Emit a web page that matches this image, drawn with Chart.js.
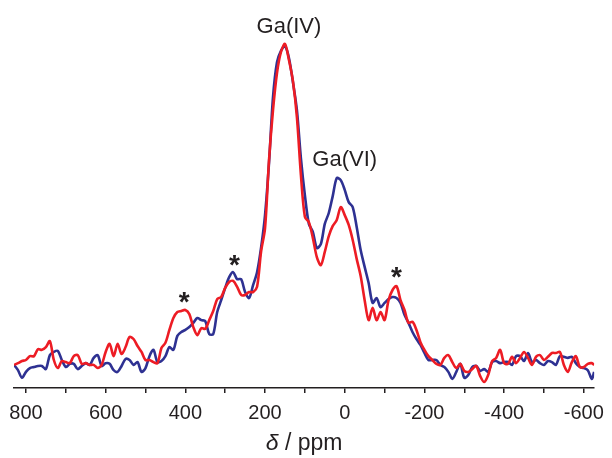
<!DOCTYPE html>
<html>
<head>
<meta charset="utf-8">
<script src="https://cdn.jsdelivr.net/npm/chart.js@4.4.1/dist/chart.umd.min.js"></script>
<style>
  html, body { margin: 0; padding: 0; background: #fff; }
</style>
</head>
<body>
<canvas id="spectrum" width="612" height="458"></canvas>
<script>
// chemical shift (ppm), every 10 ppm
const shift = [
  830, 820, 810, 800, 790, 780, 770, 760, 750, 740,
  730, 720, 710, 700, 690, 680, 670, 660, 650, 640,
  630, 620, 610, 600, 590, 580, 570, 560, 550, 540,
  530, 520, 510, 500, 490, 480, 470, 460, 450, 440,
  430, 420, 410, 400, 390, 380, 370, 360, 350, 340,
  330, 320, 310, 300, 290, 280, 270, 260, 250, 240,
  230, 220, 210, 200, 190, 180, 170, 160, 150, 140,
  130, 120, 110, 100, 90, 80, 70, 60, 50, 40,
  30, 20, 10, 0, -10, -20, -30, -40, -50, -60,
  -70, -80, -90, -100, -110, -120, -130, -140, -150, -160,
  -170, -180, -190, -200, -210, -220, -230, -240, -250, -260,
  -270, -280, -290, -300, -310, -320, -330, -340, -350, -360,
  -370, -380, -390, -400, -410, -420, -430, -440, -450, -460,
  -470, -480, -490, -500, -510, -520, -530, -540, -550, -560,
  -570, -580, -590, -600, -610, -620, -626
];

// intensity (a.u.), blue trace
const blueTrace = [
  6.6, 5.1, 2.9, 4.6, 5.7, 6.0, 6.3, 6.3, 5.4, 9.4,
  10.3, 10.6, 8.0, 6.0, 6.9, 6.9, 5.4, 6.3, 7.1, 6.6,
  8.6, 9.4, 6.3, 7.1, 6.9, 5.1, 4.6, 6.3, 8.3, 8.0,
  6.6, 7.4, 4.6, 5.7, 9.1, 10.9, 7.4, 7.7, 9.1, 11.7,
  10.9, 14.9, 16.0, 16.6, 17.4, 18.6, 20.0, 19.4, 19.1, 15.4,
  15.4, 21.7, 25.1, 28.6, 31.7, 33.1, 31.1, 31.1, 27.4, 25.7,
  29.4, 33.1, 40.0, 49.4, 64.3, 83.1, 93.1, 96.3, 97.7, 94.3,
  87.4, 79.4, 65.7, 55.1, 46.9, 44.6, 40.0, 41.1, 46.9, 50.0,
  54.9, 60.0, 59.4, 56.6, 53.1, 51.7, 46.0, 39.4, 34.6, 30.0,
  24.3, 25.7, 23.1, 24.3, 25.4, 26.0, 25.7, 24.3, 20.9, 18.6,
  16.0, 14.0, 12.3, 10.0, 8.0, 8.0, 8.0, 6.6, 6.0, 4.6,
  2.6, 4.6, 6.9, 2.9, 3.7, 6.0, 6.3, 4.9, 5.4, 4.6,
  7.4, 7.7, 7.1, 7.4, 7.4, 6.6, 9.1, 9.1, 7.7, 10.0,
  7.4, 8.0, 7.1, 6.6, 7.7, 7.4, 6.6, 9.1, 8.9, 8.6,
  8.9, 7.1, 6.0, 5.7, 5.1, 2.6, 4.6
];

// intensity (a.u.), red trace
const redTrace = [
  6.6, 7.1, 7.7, 8.0, 9.1, 9.1, 11.1, 10.9, 11.7, 13.4,
  8.0, 5.7, 7.7, 7.4, 7.1, 9.1, 9.4, 6.9, 7.1, 6.6,
  6.6, 5.7, 6.6, 10.3, 12.6, 9.1, 12.6, 9.7, 11.7, 14.6,
  14.0, 12.0, 10.3, 8.0, 8.0, 7.4, 7.1, 11.4, 12.9, 16.6,
  20.0, 21.7, 22.0, 22.3, 21.1, 17.4, 15.1, 17.1, 16.9, 19.4,
  22.0, 25.4, 26.0, 28.6, 30.3, 30.6, 28.9, 26.6, 26.6, 27.4,
  27.4, 28.9, 38.9, 45.7, 65.1, 79.4, 90.0, 96.0, 98.3, 93.7,
  87.7, 77.4, 60.9, 48.9, 47.4, 42.9, 37.4, 35.1, 38.9, 43.4,
  46.3, 48.0, 51.7, 49.4, 46.6, 42.3, 36.9, 32.0, 25.1, 19.4,
  22.9, 19.4, 21.7, 19.4, 25.1, 28.0, 29.1, 25.1, 22.3, 18.6,
  18.9, 16.6, 13.1, 10.9, 9.1, 8.0, 6.9, 6.6, 8.6, 9.4,
  7.4, 5.7, 6.9, 4.9, 4.6, 5.4, 6.3, 3.4, 1.7, 3.7,
  7.7, 8.6, 10.9, 7.1, 6.9, 8.9, 7.1, 8.6, 10.3, 8.6,
  6.6, 8.9, 9.4, 8.0, 8.9, 10.0, 10.0, 10.3, 6.6, 4.6,
  7.4, 9.1, 6.0, 6.0, 6.9, 7.1, 6.6
];

const tickLabels = ['800', '600', '400', '200', '0', '-200', '-400', '-600'];

// peak names and spinning sidebands, anchored in data units (ppm, intensity)
const peakNames = [
  { text: 'Ga(IV)', ppm: 140, level: 101.4 },
  { text: 'Ga(VI)', ppm: 0, level: 63.4 }
];
const sidebands = [
  { ppm: 403, level: 26.0 },
  { ppm: 277, level: 36.3 },
  { ppm: -130, level: 33.1 }
];

const ink = '#231f20';
const font = '"Liberation Sans", Arial, sans-serif';

const labelsPlugin = {
  id: 'labels',
  afterDatasetsDraw(chart) {
    const { ctx, chartArea } = chart;
    const x = chart.scales.x, y = chart.scales.y;
    ctx.save();
    ctx.fillStyle = ink;
    ctx.textAlign = 'center';
    ctx.textBaseline = 'alphabetic';

    ctx.font = '22px ' + font;
    peakNames.forEach(p => {
      ctx.fillText(p.text, x.getPixelForValue(p.ppm), y.getPixelForValue(p.level));
    });

    ctx.font = 'bold 28px ' + font;
    const m = ctx.measureText('*');
    const lift = (m.actualBoundingBoxAscent - m.actualBoundingBoxDescent) / 2;
    sidebands.forEach(s => {
      ctx.fillText('*', x.getPixelForValue(s.ppm), y.getPixelForValue(s.level) + lift);
    });

    // axis title: italic delta, upright unit
    ctx.textAlign = 'left';
    const italic = 'italic 23px ' + font, upright = '23px ' + font;
    ctx.font = italic;
    const w1 = ctx.measureText('δ').width;
    ctx.font = upright;
    const w2 = ctx.measureText(' / ppm').width;
    const x0 = (chartArea.left + chartArea.right) / 2 - (w1 + w2) / 2;
    ctx.font = italic;
    ctx.fillText('δ', x0, 450);
    ctx.font = upright;
    ctx.fillText(' / ppm', x0 + w1, 450);
    ctx.restore();
  }
};

const toPoints = values => shift.map((s, i) => ({ x: s, y: values[i] }));

new Chart(document.getElementById('spectrum'), {
  type: 'line',
  data: {
    datasets: [
      {
        label: 'red',
        data: toPoints(redTrace),
        borderColor: '#ed1c24',
        borderWidth: 2.6,
        pointRadius: 0,
        tension: 0.3,
        fill: false
      },
      {
        label: 'blue',
        data: toPoints(blueTrace),
        borderColor: '#2e3192',
        borderWidth: 2.6,
        pointRadius: 0,
        tension: 0.3,
        fill: false
      }
    ]
  },
  options: {
    responsive: false,
    animation: false,
    layout: { padding: { left: 14, right: 10, top: 38, bottom: 0 } },
    plugins: { legend: { display: false }, tooltip: { enabled: false } },
    scales: {
      x: {
        type: 'linear',
        reverse: true,
        min: -626,
        max: 830,
        afterFit: scale => { scale.height = 70; },
        border: { display: true, color: ink, width: 1.5 },
        grid: {
          display: true,
          drawOnChartArea: false,
          drawTicks: true,
          tickLength: 5,
          color: ink,
          lineWidth: 1.5
        },
        ticks: {
          stepSize: 100,
          includeBounds: false,
          autoSkip: false,
          maxRotation: 0,
          padding: 8,
          color: ink,
          font: { family: font, size: 20 },
          callback: v => tickLabels.includes(String(v)) ? String(v) : ''
        }
      },
      y: { display: false, min: 0, max: 100 }
    }
  },
  plugins: [labelsPlugin]
});
</script>
</body>
</html>
